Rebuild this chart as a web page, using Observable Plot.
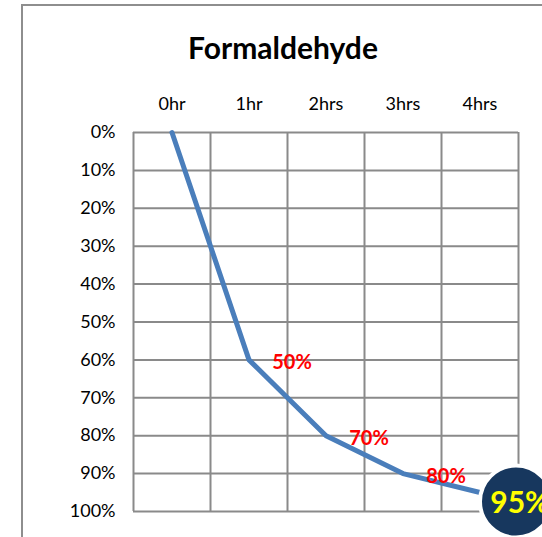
<!DOCTYPE html>
<html><head><meta charset="utf-8">
<script src="https://cdn.jsdelivr.net/npm/d3@7"></script>
<script src="https://cdn.jsdelivr.net/npm/@observablehq/plot@0.6"></script>
<style>
body{margin:0;background:#fff;}
#wrap{position:relative;width:542px;height:537px;overflow:hidden;font-family:Lato,"Open Sans",sans-serif;}
#head{position:relative;height:70px;}
#title{position:absolute;left:0;width:566px;top:30px;text-align:center;font-weight:bold;font-size:30px;line-height:34px;color:#000;}
#border{position:absolute;left:21px;top:4px;width:700px;height:700px;border-left:2px solid #8e8e8e;border-top:2px solid #8e8e8e;pointer-events:none;z-index:2;}
</style></head>
<body>
<div id="wrap"><div id="border"></div><div id="head"><div id="title">Formaldehyde</div></div><div id="chart"></div></div>
<script>
const categories = ["0hr", "1hr", "2hrs", "3hrs", "4hrs"];
const values = [0, 60, 80, 90, 95];
const labels = ["", "50%", "70%", "80%", "95%"];
const yTicks = [0, 10, 20, 30, 40, 50, 60, 70, 80, 90, 100];

const data = categories.map((c, i) => ({i, c, v: values[i], label: labels[i]}));
const xBounds = d3.range(categories.length + 1).map(k => k - 0.5);
const redData = data.filter((d, k) => d.label && k < data.length - 1);
const lastData = [data[data.length - 1]];
const grid = "#8a8a8a";

const chart = Plot.plot({
  width: 542,
  height: 467,
  marginLeft: 133,
  marginRight: 24,
  marginTop: 62,
  marginBottom: 26,
  style: {background: "transparent", fontFamily: "Lato, 'Open Sans', sans-serif", fontSize: "18px", color: "#000"},
  x: {domain: [xBounds[0], xBounds[xBounds.length - 1]], axis: null},
  y: {domain: [0, 100], reverse: true, axis: null},
  marks: [
    Plot.gridY(yTicks, {stroke: grid, strokeOpacity: 1, strokeWidth: 2}),
    Plot.gridX(xBounds, {stroke: grid, strokeOpacity: 1, strokeWidth: 2}),
    Plot.axisX(d3.range(categories.length), {anchor: "top", label: null, tickSize: 0, tickPadding: 23, tickFormat: i => categories[i], fontSize: 18, fill: "#000"}),
    Plot.axisY(yTicks, {anchor: "left", label: null, tickSize: 0, tickPadding: 18, tickFormat: d => d + "%", fontSize: 18, fill: "#000"}),
    Plot.line(data, {x: "i", y: "v", stroke: "#4a7ebb", strokeWidth: 5, strokeLinejoin: "round"}),
    Plot.text(redData, {x: "i", y: "v", text: "label", dx: 43, dy: 3, fill: "#ff0000", fontWeight: "bold", fontSize: 20}),
    Plot.dot(lastData, {x: "i", y: "v", r: 36, dx: 36, dy: 9, fill: "#17375e", stroke: "#fff", strokeWidth: 4}),
    Plot.text(lastData, {x: "i", y: "v", text: "label", dx: 40, dy: 11, fill: "#ffff00", fontWeight: "bold", fontSize: 30})
  ]
});
document.getElementById("chart").appendChild(chart);
</script>
</body></html>
